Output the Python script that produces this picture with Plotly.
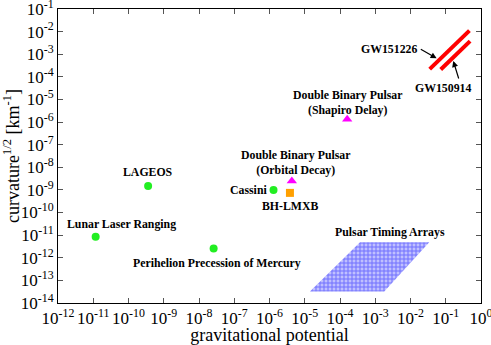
import plotly.graph_objects as go

# measurements (gravitational potential, curvature^1/2 in km^-1)
circ_names = ["Lunar Laser Ranging", "LAGEOS", "Perihelion Precession of Mercury", "Cassini"]
circ_x = [1.17e-11, 3.6e-10, 2.6e-8, 1.3e-6]
circ_y = [8.5e-12, 1.5e-9, 2.6e-12, 1.0e-9]

tri_names = ["Double Binary Pulsar (Orbital Decay)", "Double Binary Pulsar (Shapiro Delay)"]
tri_x = [4.3e-6, 1.6e-4]
tri_y = [2.5e-9, 1.35e-6]

sq_x = [3.8e-6]
sq_y = [7.4e-10]

# gravitational wave events, drawn as line segments
gw151226_x = [3.5e-2, 4.7e-1]
gw151226_y = [2.2e-4, 1.1e-2]
gw150914_x = [7.2e-2, 4.9e-1]
gw150914_y = [2.1e-4, 3.8e-3]

# pulsar timing arrays region
pta_x = [1.4e-5, 1.8e-3, 3.4e-2, 3.7e-4, 1.4e-5]
pta_y = [3.2e-14, 3.2e-14, 4.8e-12, 4.8e-12, 3.2e-14]

xticks = list(range(-12, 1))
yticks = list(range(-14, 0))

fig = go.Figure()

fig.add_trace(go.Scatter(x=pta_x, y=pta_y, mode="lines", fill="toself",
                         line=dict(width=0), fillcolor="#b0b0ff",
                         fillpattern=dict(shape="+", fgcolor="#2020ff", bgcolor="#c0c0ff",
                                          size=4, solidity=0.45)))
fig.add_trace(go.Scatter(x=gw151226_x, y=gw151226_y, mode="lines", line=dict(color="red", width=4)))
fig.add_trace(go.Scatter(x=gw150914_x, y=gw150914_y, mode="lines", line=dict(color="red", width=4)))
fig.add_trace(go.Scatter(x=circ_x, y=circ_y, mode="markers",
                         marker=dict(color="#22ee22", size=8, symbol="circle")))
fig.add_trace(go.Scatter(x=tri_x, y=tri_y, mode="markers",
                         marker=dict(color="#ff00ff", size=9, symbol="triangle-up")))
fig.add_trace(go.Scatter(x=sq_x, y=sq_y, mode="markers",
                         marker=dict(color="#ffa000", size=8, symbol="square")))

labels = [
    ("Lunar Laser Ranging", -10.21, -10.51),
    ("LAGEOS", -9.44, -8.21),
    ("Perihelion Precession of Mercury", -7.49, -12.21),
    ("Cassini", -6.61, -9.01),
    ("BH-LMXB", -5.43, -9.72),
    ("Double Binary Pulsar<br>(Orbital Decay)", -5.25, -7.78),
    ("Double Binary Pulsar<br>(Shapiro Delay)", -3.80, -5.12),
    ("Pulsar Timing Arrays", -2.58, -10.85),
    ("GW151226", -2.61, -2.78),
    ("GW150914", -1.08, -4.51),
]
for txt, lx, ly in labels:
    fig.add_annotation(x=lx, y=ly, text="<b>" + txt + "</b>", showarrow=False,
                       font=dict(family="Liberation Serif", size=11.8, color="black"))

# arrows pointing to the GW lines
fig.add_annotation(x=-1.26, y=-3.18, ax=-1.75, ay=-2.74, axref="x", ayref="y",
                   text="", showarrow=True, arrowhead=2, arrowsize=1, arrowwidth=1.2, arrowcolor="black")
fig.add_annotation(x=-0.786, y=-3.30, ax=-0.62, ay=-4.14, axref="x", ayref="y",
                   text="", showarrow=True, arrowhead=2, arrowsize=1, arrowwidth=1.2, arrowcolor="black")

axis_common = dict(showgrid=False, zeroline=False, showline=True, linecolor="black", linewidth=1,
                   mirror="allticks", ticks="inside", ticklen=5, tickcolor="#555",
                   automargin=False, ticklabeloverflow="allow",
                   tickfont=dict(family="Liberation Serif", size=17, color="black"))

fig.update_xaxes(type="log", range=[-12, 0], tickvals=[10 ** k for k in xticks],
                 ticktext=["10<sup>%d</sup>" % k for k in xticks],
                 title=dict(text="gravitational potential", standoff=0,
                            font=dict(family="Liberation Serif", size=18, color="black")),
                 **axis_common)
fig.update_yaxes(type="log", range=[-14, -1], tickvals=[10 ** k for k in yticks],
                 ticktext=["10<sup>%d</sup>" % k for k in yticks],
                 title=dict(text="curvature<sup>1/2</sup> [km<sup>-1</sup>]", standoff=0,
                            font=dict(family="Liberation Serif", size=18, color="black")),
                 **axis_common)

fig.update_layout(width=491, height=345, showlegend=False,
                  plot_bgcolor="white", paper_bgcolor="white",
                  margin=dict(l=58, r=10, t=9, b=42))

# page body has a default 8px margin; drop it so the figure sits at the window corner
fig.write_html("out.html", config={"displayModeBar": False},
               post_script="document.body.style.margin='0px';")
